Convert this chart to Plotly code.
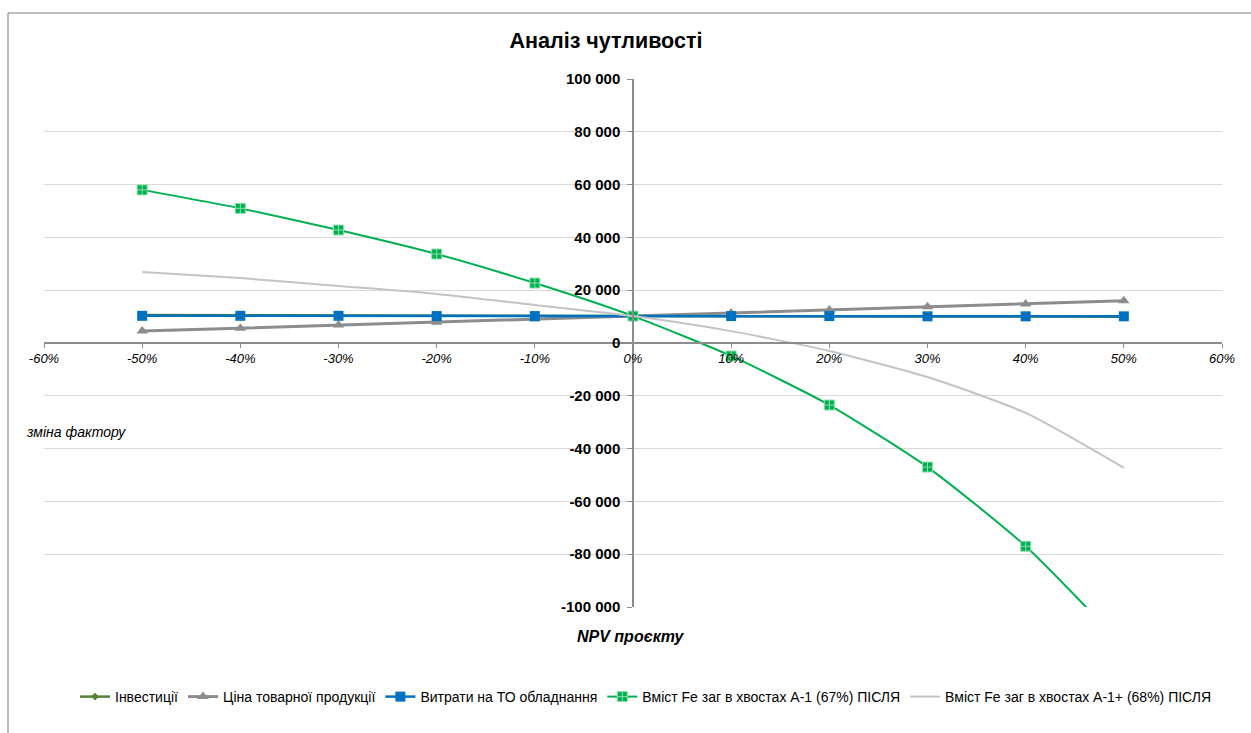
import plotly.graph_objects as go

# Sensitivity analysis: project NPV vs. change of each factor
factor_change = [-0.5, -0.4, -0.3, -0.2, -0.1, 0.0, 0.1, 0.2, 0.3, 0.4, 0.5]

investments = [10600, 10500, 10500, 10400, 10300, 10200, 10100, 10100, 10000, 10000, 9900]
product_price = [4500, 5600, 6800, 7900, 9100, 10200, 11400, 12500, 13700, 14800, 16000]
maintenance_costs = [10300, 10300, 10300, 10200, 10200, 10200, 10200, 10200, 10100, 10100, 10100]
fe_tailings_a1 = [58000, 51000, 42800, 33700, 22700, 10200, -4900, -23500, -47000, -77000, -115000]
fe_tailings_a1_plus = [26900, 24600, 21600, 18600, 14400, 10200, 4500, -3000, -12900, -26500, -47300]

series_names = [
    "Інвестиції",
    "Ціна товарної продукції",
    "Витрати на ТО обладнання",
    "Вміст Fe заг в хвостах А-1 (67%) ПІСЛЯ",
    "Вміст Fe заг в хвостах А-1+ (68%) ПІСЛЯ",
]

x_tick_vals = [-0.6, -0.5, -0.4, -0.3, -0.2, -0.1, 0.0, 0.1, 0.2, 0.3, 0.4, 0.5, 0.6]
x_tick_text = ["-60%", "-50%", "-40%", "-30%", "-20%", "-10%", "0%",
               "10%", "20%", "30%", "40%", "50%", "60%"]
y_tick_vals = [-100000, -80000, -60000, -40000, -20000, 0,
               20000, 40000, 60000, 80000, 100000]
y_tick_text = ["-100 000", "-80 000", "-60 000", "-40 000", "-20 000", "0",
               "20 000", "40 000", "60 000", "80 000", "100 000"]

FONT = "Arial, 'Liberation Sans', sans-serif"
W, H = 1251, 733
ML, MR, MT, MB = 44, 29, 79, 126
PW, PH = W - ML - MR, H - MT - MB


def px_x(px):
    return (px - ML) / PW


def px_y(py):
    return (H - MB - py) / PH


fig = go.Figure()

fig.add_trace(go.Scatter(
    x=factor_change, y=investments, name=series_names[0], mode="lines+markers",
    line=dict(color="#548235", width=2.5),
    marker=dict(symbol="diamond", size=6, color="#548235"),
))
fig.add_trace(go.Scatter(
    x=factor_change, y=product_price, name=series_names[1], mode="lines+markers",
    line=dict(color="#8c8c8c", width=3),
    marker=dict(symbol="triangle-up", size=10, color="#8c8c8c"),
))
fig.add_trace(go.Scatter(
    x=factor_change, y=maintenance_costs, name=series_names[2], mode="lines+markers",
    line=dict(color="#0070C0", width=2.5),
    marker=dict(symbol="square", size=10, color="#0070C0"),
))
fig.add_trace(go.Scatter(
    x=factor_change, y=fe_tailings_a1, name=series_names[3], mode="lines+markers",
    line=dict(color="#00B050", width=2, shape="spline", smoothing=0.6),
    marker=dict(symbol="square-cross", size=10, color="#00B050",
                line=dict(color="#8be0aa", width=1)),
))
fig.add_trace(go.Scatter(
    x=factor_change, y=fe_tailings_a1_plus, name=series_names[4], mode="lines",
    line=dict(color="#c3c3c3", width=2, shape="spline", smoothing=0.6),
))

axis_color = "#8c8c8c"

fig.update_layout(
    width=W, height=H,
    margin=dict(l=ML, r=MR, t=MT, b=MB),
    paper_bgcolor="white", plot_bgcolor="white",
    font=dict(family=FONT, color="#000000"),
    title=dict(text="<b>Аналіз чутливості</b>", x=px_x(606), xref="paper",
               y=1 - 40 / H, yref="container", xanchor="center", yanchor="middle",
               font=dict(size=21.5, family=FONT, color="#000000")),
    xaxis=dict(
        range=[-0.6, 0.6], anchor="free", position=0.5,
        tickvals=x_tick_vals, ticktext=x_tick_text,
        tickfont=dict(size=13, style="italic", color="#000000"),
        showgrid=False, zeroline=False, showline=True,
        linecolor=axis_color, linewidth=1.5,
        ticks="outside", ticklen=4, tickcolor=axis_color,
    ),
    yaxis=dict(
        range=[-100000, 100000], anchor="free", position=0.5,
        tickvals=y_tick_vals, ticktext=y_tick_text,
        tickfont=dict(size=15, weight="bold", color="#000000"),
        showgrid=True, gridcolor="#d9d9d9", gridwidth=1,
        zeroline=False, showline=True,
        linecolor=axis_color, linewidth=1.5,
        ticks="outside", ticklen=5, tickcolor=axis_color,
        ticklabelstandoff=4,
    ),
    legend=dict(
        orientation="h", x=px_x(646), xanchor="center",
        y=px_y(697), yanchor="middle",
        font=dict(size=14, family=FONT, color="#000000"),
        bgcolor="rgba(0,0,0,0)", itemwidth=30,
    ),
    showlegend=True,
)

fig.add_annotation(
    text="<b><i>NPV проєкту</i></b>", x=px_x(631), y=px_y(636),
    xref="paper", yref="paper", showarrow=False,
    xanchor="center", yanchor="middle", font=dict(size=16, family=FONT),
)
fig.add_annotation(
    text="<i>зміна фактору</i>", x=px_x(24), y=px_y(432),
    xref="paper", yref="paper", showarrow=False,
    xanchor="left", yanchor="middle", font=dict(size=14, family=FONT),
)

# chart area frame (top and left edges)
fig.add_shape(type="line", xref="paper", yref="paper",
              x0=px_x(8), y0=px_y(13), x1=px_x(1251), y1=px_y(13),
              line=dict(color="#a6a6a6", width=1.5))
fig.add_shape(type="line", xref="paper", yref="paper",
              x0=px_x(8), y0=px_y(13), x1=px_x(8), y1=px_y(733),
              line=dict(color="#a6a6a6", width=1.5))

fig.write_html("out.html")
